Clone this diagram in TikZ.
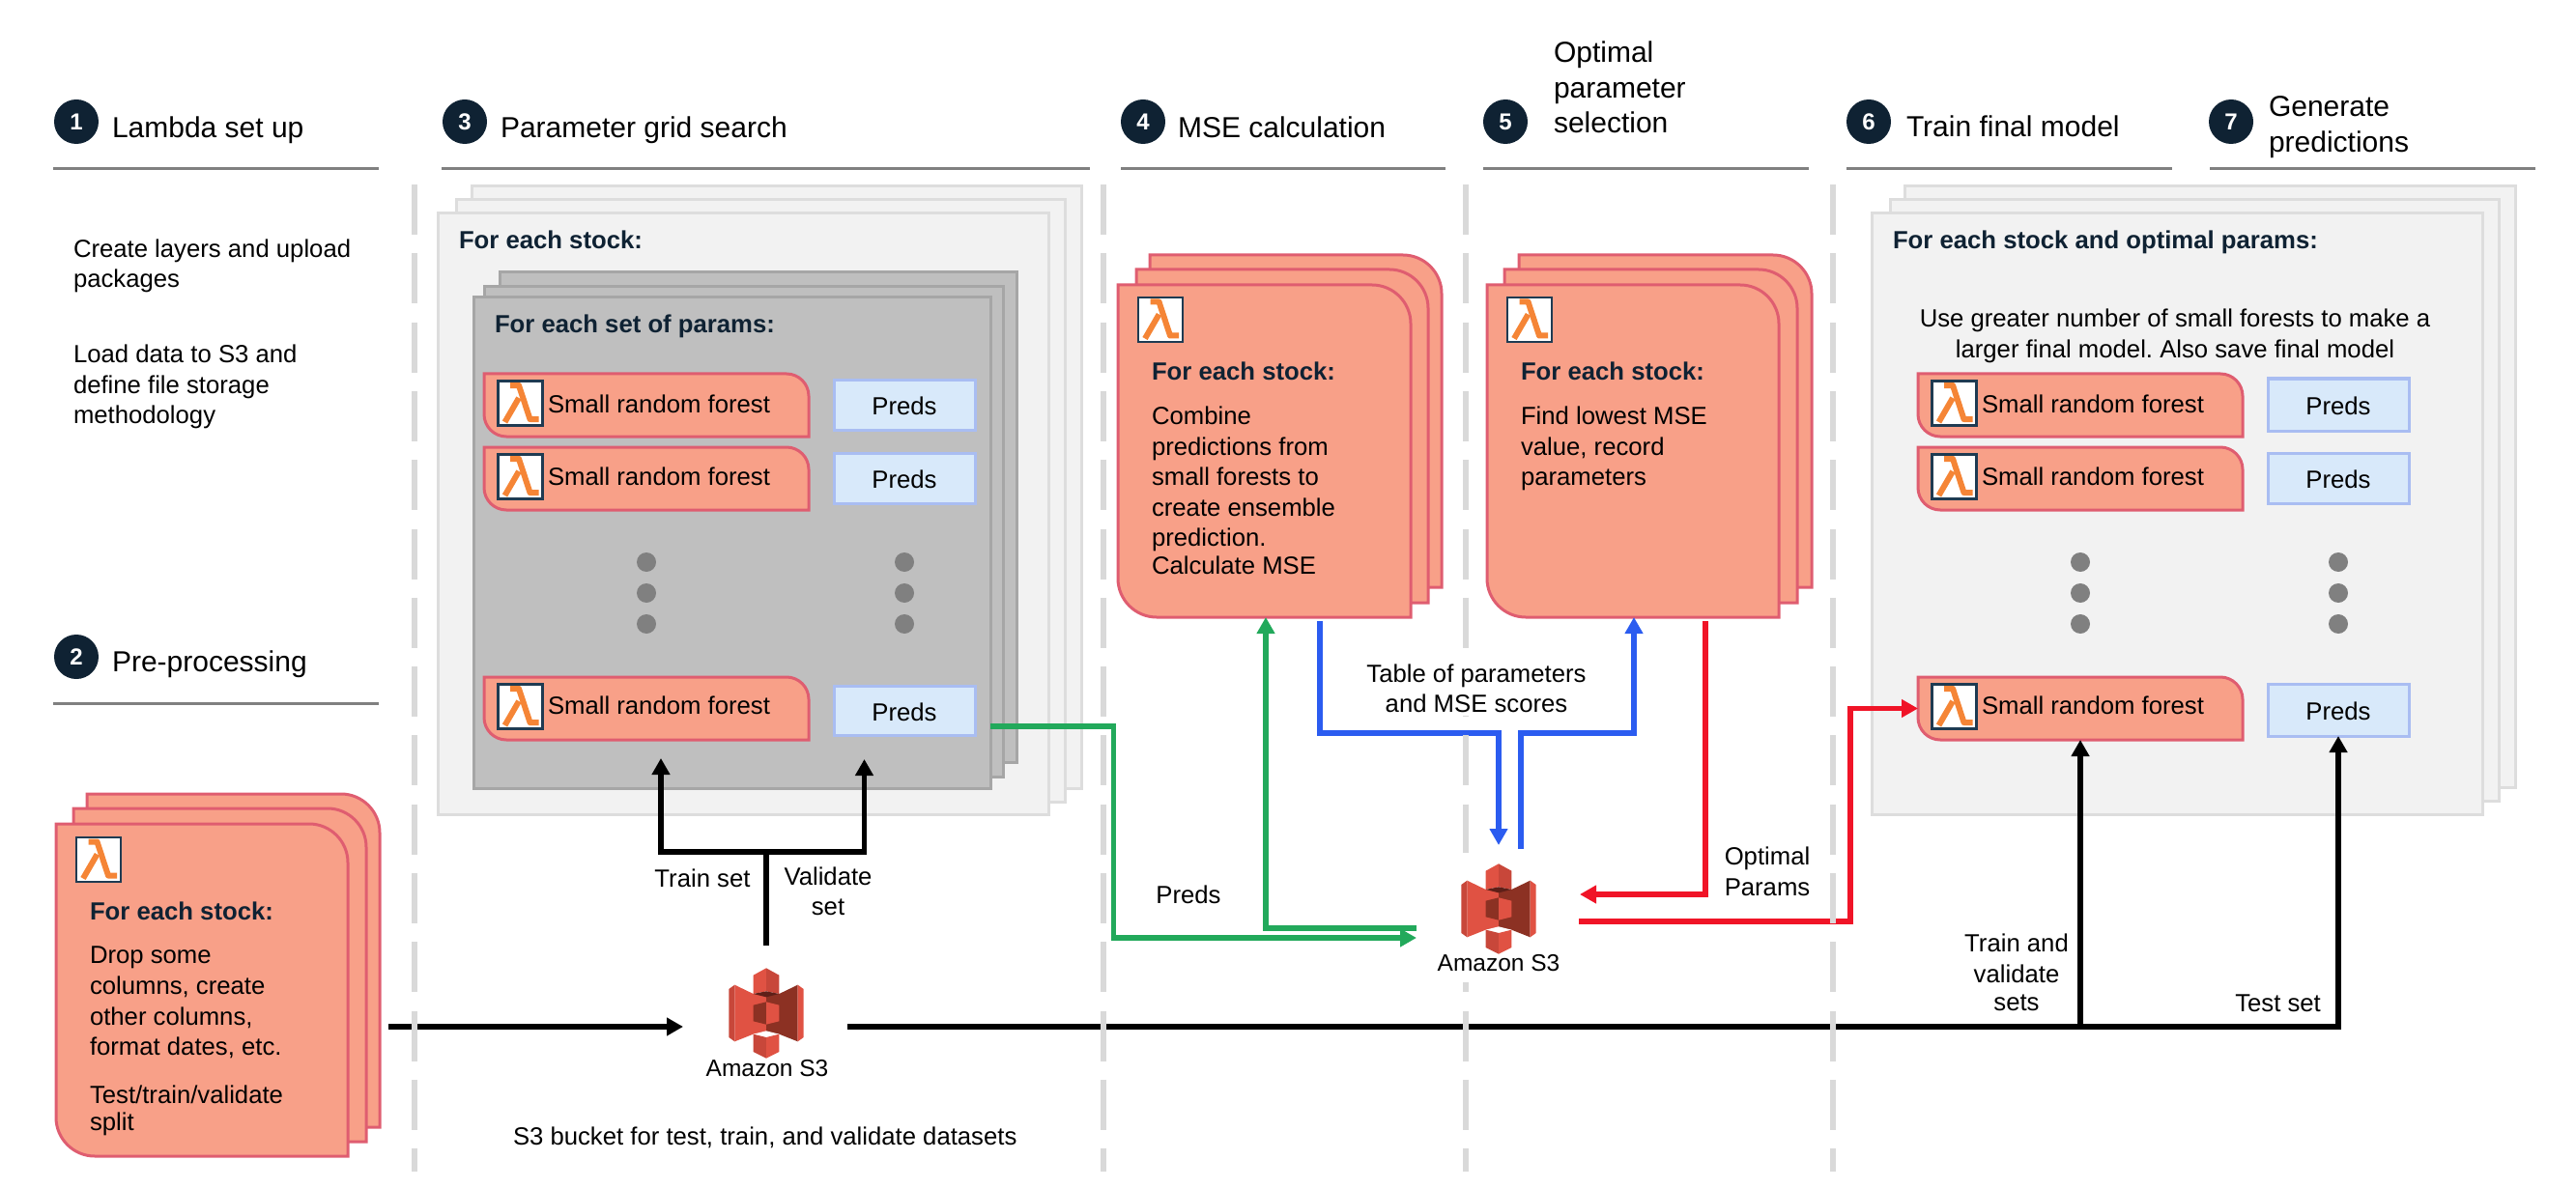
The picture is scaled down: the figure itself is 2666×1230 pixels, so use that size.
\documentclass[tikz,border=0pt]{standalone}
\usepackage{fontspec}
\setmainfont{Liberation Sans}
\usetikzlibrary{arrows.meta}
\AtBeginDocument{\frenchspacing}
\definecolor{navy}{HTML}{0F2233}
\definecolor{cardfill}{HTML}{F8A088}
\definecolor{cardline}{HTML}{DF5D70}
\definecolor{lightfill}{HTML}{F2F2F2}
\definecolor{lightline}{HTML}{DDDDDD}
\definecolor{darkfill}{HTML}{BFBFBF}
\definecolor{darkline}{HTML}{A6A6A6}
\definecolor{predfill}{HTML}{D8E9FA}
\definecolor{predline}{HTML}{A9BDF2}
\definecolor{greenarrow}{HTML}{22A95B}
\definecolor{bluearrow}{HTML}{2B5CF0}
\definecolor{redarrow}{HTML}{F01427}
\definecolor{lamorange}{HTML}{F58536}
\definecolor{lamnavy}{HTML}{1F3B52}
\definecolor{sthree}{HTML}{E05243}
\definecolor{sthreemid}{HTML}{C8473A}
\definecolor{sthreedark}{HTML}{8C3123}
\definecolor{sthreedeep}{HTML}{5E1F18}
\tikzset{
  bodyfont/.style={font=\fontsize{25.7}{31.6}\selectfont},
  txt/.style={bodyfont,inner sep=0,outer sep=0,anchor=base west,align=left},
  ctxt/.style={bodyfont,inner sep=0,outer sep=0,anchor=base,align=center},
  boldtxt/.style={txt,font=\fontsize{25.7}{31.6}\selectfont\bfseries,text=navy},
  headtxt/.style={inner sep=0,outer sep=0,anchor=base west,align=left,font=\fontsize{30}{37}\selectfont},
  numdot/.style={circle,fill=navy,text=white,minimum size=46pt,inner sep=0,font=\fontsize{24}{24}\selectfont\bfseries},
  headrule/.style={line width=3pt,draw=black!50},
  cardshape/.style={fill=cardfill,draw=cardline,line width=3pt},
  anchorbox/.style={inner sep=0,outer sep=0},
  lightbox/.style={fill=lightfill,draw=lightline,line width=3pt,inner sep=0,outer sep=0},
  darkbox/.style={fill=darkfill,draw=darkline,line width=3pt,inner sep=0,outer sep=0},
  predbox/.style={fill=predfill,draw=predline,line width=3pt,inner sep=0,outer sep=0,bodyfont},
  lambox/.style={fill=white,draw=lamnavy,line width=2.5pt,inner sep=0,outer sep=0,minimum size=46pt},
  greydot/.style={circle,fill=black!50,minimum size=20pt,inner sep=0,outer sep=0},
  divider/.style={draw=black!15,line width=6pt,dash pattern=on 52pt off 19.3pt},
  conn/.style={line width=5.6pt,-{Triangle[width=18pt,length=17pt]}},
  pics/lamglyph/.style={code={
    \draw[lamorange,line width=6pt,line join=round] (12.5,4.5) -- (21.5,4.5) -- (33,39.5) -- (42,39.5);
    \draw[lamorange,line width=6pt] (21.5,17.5) -- (7,42.5);
  }},
  pics/s3logo/.style={code={
    \begin{scope}[x=.3333pt,y=-.3333pt]
      \fill[sthree] (-98,-88) -- (-40,-60) -- (0,-60) -- (0,65) -- (-40,65) -- (-98,88) -- cycle;
      \fill[sthreemid] (-116,-75) -- (-98,-88) -- (-98,88) -- (-116,75) -- cycle;
      \fill[sthreedark] (0,-60) -- (40,-60) -- (98,-88) -- (98,88) -- (40,65) -- (0,65) -- cycle;
      \fill[sthree] (98,-88) -- (116,-75) -- (116,75) -- (98,88) -- cycle;
      \fill[sthree] (-40,-118) -- (0,-140) -- (0,-68) -- (-40,-60) -- cycle;
      \fill[sthreemid] (0,-140) -- (40,-118) -- (40,-60) -- (0,-68) -- cycle;
      \fill[sthreedeep] (-40,-60) -- (0,-68) -- (40,-60) -- (0,-50) -- cycle;
      \fill[sthreedark] (-40,-25) -- (0,-35) -- (0,35) -- (-40,25) -- cycle;
      \fill[sthree] (0,-35) -- (40,-25) -- (40,25) -- (0,35) -- cycle;
      \fill[white] (-40,65) -- (0,55) -- (40,65) -- (0,75) -- cycle;
      \fill[sthreemid] (-40,65) -- (0,75) -- (0,140) -- (-40,120) -- cycle;
      \fill[sthree] (0,75) -- (40,65) -- (40,120) -- (0,140) -- cycle;
    \end{scope}
  }},
}
\newcommand\fcard[7]{%
  \path[#1] (#3,#4) -- ({#5-#7},#4) .. controls ({#5-0.45*#7},#4) and (#5,{#4+0.45*#7}) .. (#5,{#4+#7})
    -- (#5,#6) -- ({#3+#7},#6) .. controls ({#3+0.45*#7},#6) and (#3,{#6-0.45*#7}) .. (#3,{#6-#7}) -- cycle;
  \node[anchorbox,minimum width={(#5-#3)*1pt},minimum height={(#6-#4)*1pt}] (#2) at ({(#3+#5)/2},{(#4+#6)/2}) {};
}
\newcommand\rectnode[7][]{% [text], style, name, x0,y0,x1,y1
  \node[#2,minimum width={(#6-#4)*1pt},minimum height={(#7-#5)*1pt}] (#3) at ({(#4+#6)/2},{(#5+#7)/2}) {#1};
}
\newcommand\lamicon[3]{%
  \node[lambox,anchor=north west] (#1) at (#2,#3) {};
  \pic at (#1.north west) {lamglyph};
}
\newcommand\smallrf[4]{% name, x0, y0, baseline
  \fcard{cardshape}{#1}{#2}{#3}{#2+336}{#3+65}{23}
  \lamicon{#1icon}{#2+14.5}{#3+7.5}
  \node[txt] (#1label) at (#2+66,#4) {Small random forest};
}
\newcommand\predrect[4]{% name, x0, y0, y1
  \rectnode{predbox}{#1}{#2}{#3}{#2+146}{#4}
  \node[ctxt] (#1label) at (#2+73,{(#3+#4)/2+10.5}) {Preds};
}
\begin{document}
\begin{tikzpicture}[x=1pt,y=-1pt]
\useasboundingbox (0,0) rectangle (2666,1230);

% Headings
\node[numdot] (n1) at (79,126) {1};
\node[headtxt] (h1) at (116,142.5) {Lambda set up};
\draw[headrule] (55,175) -- (392,175);
\node[numdot] (n2) at (79,680) {2};
\node[headtxt] (h2) at (116,695) {Pre-processing};
\draw[headrule] (55,728) -- (392,728);
\node[numdot] (n3) at (481,126) {3};
\node[headtxt] (h3) at (518,142.5) {Parameter grid search};
\draw[headrule] (457,175) -- (1128,175);
\node[numdot] (n4) at (1183,126) {4};
\node[headtxt] (h4) at (1219,142.5) {MSE calculation};
\draw[headrule] (1160,175) -- (1496,175);
\node[numdot] (n5) at (1558,126) {5};
\node[headtxt] (h5a) at (1608,65) {Optimal};
\node[headtxt] (h5b) at (1608,102) {parameter};
\node[headtxt] (h5c) at (1608,138) {selection};
\draw[headrule] (1535,175) -- (1872,175);
\node[numdot] (n6) at (1934,126) {6};
\node[headtxt] (h6) at (1973,142) {Train final model};
\draw[headrule] (1911,175) -- (2248,175);
\node[numdot] (n7) at (2309,126) {7};
\node[headtxt] (h7a) at (2348,120.5) {Generate};
\node[headtxt] (h7b) at (2348,157.5) {predictions};
\draw[headrule] (2287,175) -- (2624,175);

% Step 1 text
\node[txt] (t1a) at (76,267) {Create layers and upload};
\node[txt] (t1b) at (76,298) {packages};
\node[txt] (t1c) at (76,376) {Load data to S3 and};
\node[txt] (t1d) at (76,407) {define file storage};
\node[txt] (t1e) at (76,438) {methodology};

% Step 2 card
\fcard{cardshape}{preC}{90}{822}{393}{1167}{40}
\fcard{cardshape}{preB}{76}{837}{379}{1182}{40}
\fcard{cardshape}{preA}{58}{853}{360}{1197}{40}
\lamicon{preicon}{79}{867}
\node[boldtxt] (pre1) at (93,952) {For each stock:};
\node[txt] (pre2) at (93,997) {Drop some};
\node[txt] (pre3) at (93,1029) {columns, create};
\node[txt] (pre4) at (93,1061) {other columns,};
\node[txt] (pre5) at (93,1092) {format dates, etc.};
\node[txt] (pre6) at (93,1142) {Test/train/validate};
\node[txt] (pre7) at (93,1170) {split};

% Step 3 stacks
\rectnode{lightbox}{gridC}{488}{193}{1119}{816}
\rectnode{lightbox}{gridB}{472}{207}{1102}{830}
\rectnode{lightbox}{gridA}{453}{221}{1085}{843}
\node[boldtxt] (gridlabel) at (475,258) {For each stock:};
\rectnode{darkbox}{paramC}{517}{282}{1052}{789}
\rectnode{darkbox}{paramB}{501}{297}{1038}{804}
\rectnode{darkbox}{paramA}{490}{308}{1025}{816}
\node[boldtxt] (paramlabel) at (512,345) {For each set of params:};
\smallrf{rfa}{501}{387}{427}
\predrect{pra}{863}{393}{445}
\smallrf{rfb}{501}{463}{502}
\predrect{prb}{863}{469}{521}
\smallrf{rfc}{501}{701}{739}
\predrect{prc}{863}{710}{761}
\foreach \yy/\i in {582/1,614/2,646/3}{
  \node[greydot] (dl\i) at (669,\yy) {};
  \node[greydot] (dm\i) at (936,\yy) {};
}

% Step 4 and 5 cards
\fcard{cardshape}{mseC}{1190}{264}{1492}{608}{40}
\fcard{cardshape}{mseB}{1176}{279}{1478}{624}{40}
\fcard{cardshape}{mseA}{1157}{295}{1460}{639}{40}
\lamicon{mseicon}{1178}{308}
\node[boldtxt] (mse1) at (1192,394) {For each stock:};
\node[txt] (mse2) at (1192,439) {Combine};
\node[txt] (mse3) at (1192,471) {predictions from};
\node[txt] (mse4) at (1192,502) {small forests to};
\node[txt] (mse5) at (1192,534) {create ensemble};
\node[txt] (mse6) at (1192,565) {prediction.};
\node[txt] (mse7) at (1192,594) {Calculate MSE};

\fcard{cardshape}{optC}{1572}{264}{1875}{608}{40}
\fcard{cardshape}{optB}{1557}{279}{1860}{624}{40}
\fcard{cardshape}{optA}{1539}{295}{1841}{639}{40}
\lamicon{opticon}{1560}{308}
\node[boldtxt] (opt1) at (1574,394) {For each stock:};
\node[txt] (opt2) at (1574,439) {Find lowest MSE};
\node[txt] (opt3) at (1574,471) {value, record};
\node[txt] (opt4) at (1574,502) {parameters};

% Step 6 and 7 stack
\rectnode{lightbox}{finC}{1971}{193}{2603}{815}
\rectnode{lightbox}{finB}{1956}{207}{2586}{829}
\rectnode{lightbox}{finA}{1937}{221}{2569}{843}
\node[boldtxt] (finlabel) at (1959,258) {For each stock and optimal params:};
\node[ctxt] (finnote1) at (2251,338.5) {Use greater number of small forests to make a};
\node[ctxt] (finnote2) at (2251,370.5) {larger final model. Also save final model};
\smallrf{rfr}{1985}{387}{427}
\predrect{prr}{2347}{392}{446}
\smallrf{rfs}{1985}{463}{502}
\predrect{prs}{2347}{469}{521}
\smallrf{rft}{1985}{701}{739}
\predrect{prt}{2347}{708}{762}
\foreach \yy/\i in {582/1,614/2,646/3}{
  \node[greydot] (dr\i) at (2153,\yy) {};
  \node[greydot] (ds\i) at (2420,\yy) {};
}

% First S3 bucket
\node[anchorbox,minimum width=78pt,minimum height=93pt] (s3a) at (793,1049) {};
\pic at (s3a.center) {s3logo};
\node[ctxt,font=\fontsize{24.5}{30}\selectfont] (s3alabel) at (794,1114) {Amazon S3};
\node[txt] (s3note) at (531,1185) {S3 bucket for test, train, and validate datasets};

% Free connector ends
\coordinate (preout) at (402,1063);
\coordinate (s3ain) at (707,1063);
\coordinate (s3aout) at (877,1063);
\coordinate (s3aup) at (793,979);
\coordinate (fork) at (793,882);
\coordinate (traintip) at ([xshift=15pt,yshift=-19pt]rfc.south);
\coordinate (valtip) at ([xshift=-41.5pt,yshift=-25pt]prc.south);
\coordinate (s3gin) at (1466,971);
\coordinate (s3gout) at (1466,961);
\coordinate (s3bluein) at (1551,875);
\coordinate (s3blueout) at (1574,879);
\coordinate (s3redin) at (1635,926);
\coordinate (s3redout) at (1634,954);

% Connectors
\draw[conn,black] (preout) -- (s3ain);
\draw[conn,black] (s3aout) -| (prt.south);
\draw[conn,black] (s3aout -| rft.south) -- (rft.south);
\draw[conn,black] (s3aup) -- (fork) -| (traintip);
\draw[conn,black] (fork) -| (valtip);
\draw[conn,greenarrow] ([xshift=16pt,yshift=-16.5pt]prc.east) -- ++(127.5,0) |- (s3gin);
\draw[conn,greenarrow] (s3gout) -| ([xshift=1.5pt]mseA.south);
\draw[conn,bluearrow] ([xshift=57.5pt,yshift=-4pt]mseA.south) |- ++(185,116) -- (s3bluein);
\draw[conn,bluearrow] (s3blueout) -- ++(0,-120) -| ([xshift=1pt]optA.south);
\draw[conn,redarrow] ([xshift=75pt,yshift=-4pt]optA.south) |- (s3redin);
\draw[conn,redarrow] (s3redout) -| ([xshift=-70pt]rft.west) -- (rft.west);

% Vertical dividers (passing over the thin connector crossings)
\foreach \xx in {429,1142,1517,1897}{
  \draw[divider] (\xx,191) -- (\xx,1213);
}

% Second S3 bucket: a white panel that masks the divider
\node[anchorbox,fill=white,minimum width=84pt,minimum height=134pt] (s3b) at (1551,950) {};
\pic at (1551,941) {s3logo};
\node[ctxt,font=\fontsize{24.5}{30}\selectfont] (s3blabel) at (1551,1005) {Amazon S3};

% Connector labels
\node[ctxt] (trainlab) at (727,918) {Train set};
\node[ctxt] (vallab1) at (857,916) {Validate};
\node[ctxt] (vallab2) at (857,947) {set};
\node[bodyfont,align=center,fill=white,inner xsep=4pt,inner ysep=3pt] (tablab) at (1528,713) {Table of parameters\\and MSE scores};
\node[ctxt] (predlab) at (1230,935) {Preds};
\node[ctxt] (optlab1) at (1829,895) {Optimal};
\node[ctxt] (optlab2) at (1829,927) {Params};
\node[ctxt] (tvlab1) at (2087,985) {Train and};
\node[ctxt] (tvlab2) at (2087,1017) {validate};
\node[ctxt] (tvlab3) at (2087,1046) {sets};
\node[ctxt] (testlab) at (2357.5,1047) {Test set};
\end{tikzpicture}
\end{document}
